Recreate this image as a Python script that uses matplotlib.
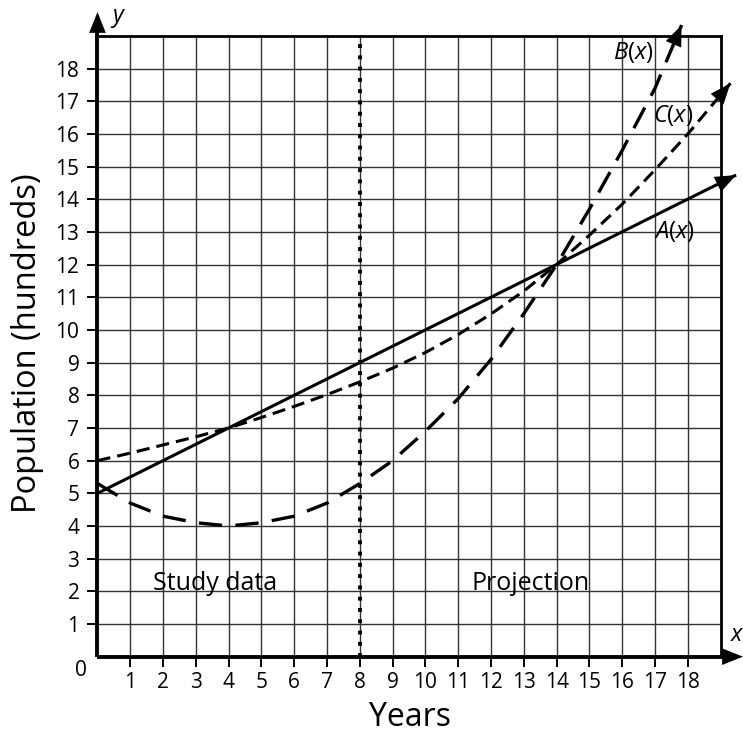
import matplotlib.pyplot as plt
from matplotlib.patches import FancyArrowPatch

# Polices : Open Sans partout, italique pour les noms de fonctions
plt.rcParams['font.family'] = ['Open Sans', 'DejaVu Sans']
plt.rcParams['mathtext.fontset'] = 'custom'
plt.rcParams['mathtext.rm'] = 'Open Sans'
plt.rcParams['mathtext.it'] = 'Open Sans:italic'

# Données (années, population en centaines)
years_a = [0, 19.47]
pop_a = [5.0, 14.74]

years_b = [0, 1, 2, 3, 4, 5, 6, 7, 8, 9, 10, 11, 12, 13, 14, 15, 16, 17, 17.81]
pop_b = [5.3, 4.7, 4.3, 4.1, 4.0, 4.1, 4.3, 4.7, 5.3, 6.0, 6.9, 7.9, 9.1, 10.5, 12.0, 13.7, 15.5, 17.4, 19.33]

years_c = [0, 1, 2, 3, 4, 5, 6, 7, 8, 9, 10, 11, 12, 13, 14, 15, 16, 17, 18, 19.3]
pop_c = [6.0, 6.23, 6.48, 6.73, 7.0, 7.32, 7.66, 8.02, 8.41, 8.83, 9.31, 9.86, 10.49, 11.19, 12.0, 12.9, 13.85, 14.9, 16.0, 17.55]

ticks = list(range(1, 19))
split_year = 8

fig = plt.figure(figsize=(7.43, 7.37), dpi=100)
ax = fig.add_axes([86 / 743, 0.0935, 657.6 / 743, 0.8955])
ax.set_xlim(-0.35, 19.7)
ax.set_ylim(-0.35, 19.85)

# Quadrillage
for v in range(1, 19):
    ax.plot([v, v], [0, 19], color='#333333', lw=1, zorder=1)
    ax.plot([0, 19], [v, v], color='#333333', lw=1, zorder=1)
ax.plot([19, 19], [0, 19], color='black', lw=2, zorder=1)
ax.plot([0, 19], [19, 19], color='black', lw=2, zorder=1)

# Séparation données / projection
ax.plot([split_year, split_year], [0, 19], color='black', lw=2.8,
        linestyle=(0, (1, 1.9)), zorder=2)


def tete(x0, y0, x1, y1):
    # pointe de flèche pleine au bout d'un segment
    p = FancyArrowPatch((x0, y0), (x1, y1), transform=ax.transData,
                        arrowstyle='-|>,head_length=1.25,head_width=0.5',
                        mutation_scale=12, color='black', lw=0,
                        shrinkA=0, shrinkB=0, zorder=5, clip_on=False)
    ax.add_patch(p)


# Axes avec flèches
ax.plot([0, 19.3], [0, 0], color='black', lw=2.8, zorder=4, clip_on=False,
        solid_capstyle='butt')
ax.plot([0, 0], [0, 19.4], color='black', lw=2.8, zorder=4, clip_on=False,
        solid_capstyle='butt')
tete(18.5, 0, 19.68, 0)
tete(0, 18.5, 0, 19.73)

# Les trois modèles
ax.plot(years_a, pop_a, color='black', lw=2.2, zorder=3, solid_capstyle='butt')
tete(years_a[0], pop_a[0], years_a[-1], pop_a[-1])

ax.plot(years_b, pop_b, color='black', lw=2.4, zorder=3,
        linestyle=(0, (7, 4)), clip_on=False)
tete(years_b[-2], pop_b[-2], years_b[-1], pop_b[-1])

ax.plot(years_c, pop_c, color='black', lw=2.2, zorder=3,
        linestyle=(0, (4.3, 2.3)))
tete(years_c[-2], pop_c[-2], years_c[-1], pop_c[-1])

# Graduations
for s in ax.spines.values():
    s.set_visible(False)
ax.spines['left'].set_position(('data', 0))
ax.spines['bottom'].set_position(('data', 0))
ax.set_xticks(ticks)
ax.set_yticks(ticks)
ax.tick_params(direction='out', length=7, width=1.4, labelsize=15, pad=6)
ax.tick_params(axis='x', pad=4)

ax.text(-0.5, -0.41, '0', fontsize=15, ha='center', va='center')
ax.text(19.5, 0.66, r'$x$', fontsize=17, ha='center', va='center')
ax.text(0.63, 19.55, r'$y$', fontsize=17, ha='center', va='center')

ax.text(16.33, 18.48, r'$B(x)$', fontsize=17, ha='center', va='center')
ax.text(17.55, 16.55, r'$C(x)$', fontsize=17, ha='center', va='center')
ax.text(17.58, 13.0, r'$A(x)$', fontsize=17, ha='center', va='center')

ax.text(3.58, 2.25, 'Study data', fontsize=18, ha='center', va='center')
ax.text(13.19, 2.25, 'Projection', fontsize=18, ha='center', va='center')

fig.text(28 / 743, 1 - 343 / 737, 'Population (hundreds)', fontsize=23.5,
         rotation=90, ha='center', va='center')
fig.text(410 / 743, 1 - 718 / 737, 'Years', fontsize=23, ha='center', va='center')

plt.savefig('out.png', dpi=100)
plt.close()
